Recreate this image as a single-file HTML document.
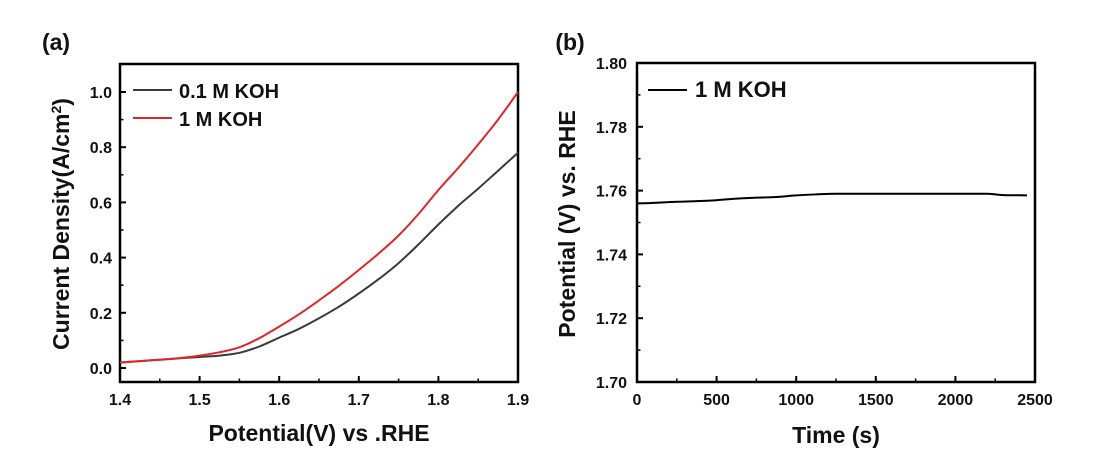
<!DOCTYPE html>
<html><head><meta charset="utf-8"><style>
body{margin:0;background:#fff;}
svg{display:block;font-family:"Liberation Sans",Arial,sans-serif;font-weight:bold;}
</style></head><body>
<svg id="chart" width="1095" height="460" viewBox="0 0 1095 460"></svg>
<script>
// Panel (a) data
const voltsA = [1.40,1.425,1.45,1.475,1.50,1.525,1.55,1.575,1.60,1.625,1.65,1.675,1.70,1.725,1.75,1.775,1.80,1.825,1.85,1.875,1.90];
const curr01 = [0.02,0.025,0.03,0.035,0.04,0.045,0.055,0.078,0.11,0.142,0.18,0.222,0.27,0.322,0.38,0.448,0.52,0.588,0.65,0.715,0.78];
const curr1  = [0.02,0.025,0.03,0.036,0.045,0.057,0.075,0.108,0.15,0.195,0.245,0.298,0.355,0.415,0.48,0.558,0.645,0.725,0.81,0.9,1.0];
const xTicksA = [1.4,1.5,1.6,1.7,1.8,1.9];
const yTicksA = [0.0,0.2,0.4,0.6,0.8,1.0];
// Panel (b) data
const timeB = [0,125,250,375,500,625,750,875,1000,1125,1250,1500,1750,2000,2200,2300,2450];
const potB  = [1.756,1.7562,1.7565,1.7567,1.757,1.7575,1.7578,1.758,1.7585,1.7588,1.759,1.759,1.759,1.759,1.759,1.7586,1.7585];
const xTicksB = [0,500,1000,1500,2000,2500];
const yTicksB = [1.70,1.72,1.74,1.76,1.78,1.80];

const svg = document.getElementById('chart');
const NS='http://www.w3.org/2000/svg';
function mk(tag, attrs, parent){const e=document.createElementNS(NS,tag);for(const k in attrs)e.setAttribute(k,attrs[k]);(parent||svg).appendChild(e);return e;}
function txt(s,x,y,size,anchor,name){const t=mk('text',{x:x,y:y,'font-size':size,'text-anchor':anchor||'middle',fill:'#111'});t.textContent=s;


return t;}

const axA={l:120,r:518,t:64,b:382};
const xA=v=>axA.l+(v-1.4)/0.5*(axA.r-axA.l);
const yA=v=>368-v*276;
const axB={l:637,r:1035,t:63,b:382};
const xB=v=>axB.l+v/2500*(axB.r-axB.l);
const yB=v=>axB.b-(v-1.70)/0.10*(axB.b-axB.t);

function frame(ax,name){const r=mk('rect',{x:ax.l,y:ax.t,width:ax.r-ax.l,height:ax.b-ax.t,fill:'none',stroke:'#000','stroke-width':2.5});

}

function path(xs,ys,fx,fy,color,name){
 const P=xs.map((v,i)=>[fx(v),fy(ys[i])]);
 let d='M'+P[0][0].toFixed(1)+' '+P[0][1].toFixed(1);
 for(let i=0;i<P.length-1;i++){const p0=P[i-1]||P[i],p1=P[i],p2=P[i+1],p3=P[i+2]||p2;
  const c1=[p1[0]+(p2[0]-p0[0])/6,p1[1]+(p2[1]-p0[1])/6],c2=[p2[0]-(p3[0]-p1[0])/6,p2[1]-(p3[1]-p1[1])/6];
  d+=' C'+c1.map(n=>n.toFixed(1)).join(' ')+' '+c2.map(n=>n.toFixed(1)).join(' ')+' '+p2[0].toFixed(1)+' '+p2[1].toFixed(1);}
 const p=mk('path',{d:d,fill:'none',stroke:color,'stroke-width':2,'stroke-linejoin':'round'});
 
 }

// ---- Panel a ----
frame(axA,'plot-frame-a');
xTicksA.forEach((v,i)=>{const x=xA(v);mk('line',{x1:x,x2:x,y1:axA.b,y2:axA.b-6,stroke:'#000','stroke-width':2});
 if(i<xTicksA.length-1){const m=xA(v+0.05);mk('line',{x1:m,x2:m,y1:axA.b,y2:axA.b-3.5,stroke:'#000','stroke-width':1.5});}
 txt(v.toFixed(1),x,405,16,'middle','x-tick-label-a');});
yTicksA.forEach(v=>{const y=yA(v);mk('line',{x1:axA.l,x2:axA.l+6,y1:y,y2:y,stroke:'#000','stroke-width':2});
 const m=yA(v+0.1);mk('line',{x1:axA.l,x2:axA.l+3.5,y1:m,y2:m,stroke:'#000','stroke-width':1.5});
 txt(v.toFixed(1),112,y+6,16,'end','y-tick-label-a');});
path(voltsA,curr01,xA,yA,'#3a3a3a','line-0-1m-koh');
path(voltsA,curr1,xA,yA,'#e0262b','line-1m-koh');
mk('line',{x1:133,x2:172,y1:90,y2:90,stroke:'#3a3a3a','stroke-width':2});
txt('0.1 M KOH',179,98,20,'start','legend-entry-0-1m');
mk('line',{x1:133,x2:172,y1:118,y2:118,stroke:'#e0262b','stroke-width':2});
txt('1 M KOH',179,126,20,'start','legend-entry-1m');
txt('Potential(V) vs .RHE',319,441,23,'middle','x-axis-title-a');
const yt=mk('text',{x:0,y:0,'font-size':23,'text-anchor':'middle',fill:'#111',transform:'translate(69,224) rotate(-90)'});


yt.innerHTML='Current Density(A/cm<tspan dy="-8" font-size="14">2</tspan><tspan dy="8">)</tspan>';
txt('(a)',56,50,23,'middle','panel-label-a');

// ---- Panel b ----
frame(axB,'plot-frame-b');
xTicksB.forEach((v,i)=>{const x=xB(v);mk('line',{x1:x,x2:x,y1:axB.b,y2:axB.b-6,stroke:'#000','stroke-width':2});
 if(i<xTicksB.length-1){const m=xB(v+250);mk('line',{x1:m,x2:m,y1:axB.b,y2:axB.b-3.5,stroke:'#000','stroke-width':1.5});}
 txt(String(v),x,405,16,'middle','x-tick-label-b');});
yTicksB.forEach((v,i)=>{const y=yB(v);mk('line',{x1:axB.l,x2:axB.l+6,y1:y,y2:y,stroke:'#000','stroke-width':2});
 if(i<yTicksB.length-1){const m=yB(v+0.01);mk('line',{x1:axB.l,x2:axB.l+3.5,y1:m,y2:m,stroke:'#000','stroke-width':1.5});}
 txt(v.toFixed(2),627,y+6,16,'end','y-tick-label-b');});
path(timeB,potB,xB,yB,'#000','line-stability-1m-koh');
mk('line',{x1:648,x2:687,y1:90,y2:90,stroke:'#000','stroke-width':2});
txt('1 M KOH',695,97,22,'start','legend-entry-b');
txt('Time (s)',836,443,23,'middle','x-axis-title-b');
const yt2=mk('text',{x:0,y:0,'font-size':23,'text-anchor':'middle',fill:'#111',transform:'translate(575,224) rotate(-90)'});
yt2.textContent='Potential (V) vs. RHE';


txt('(b)',570,50,23,'middle','panel-label-b');
</script>
</body></html>
